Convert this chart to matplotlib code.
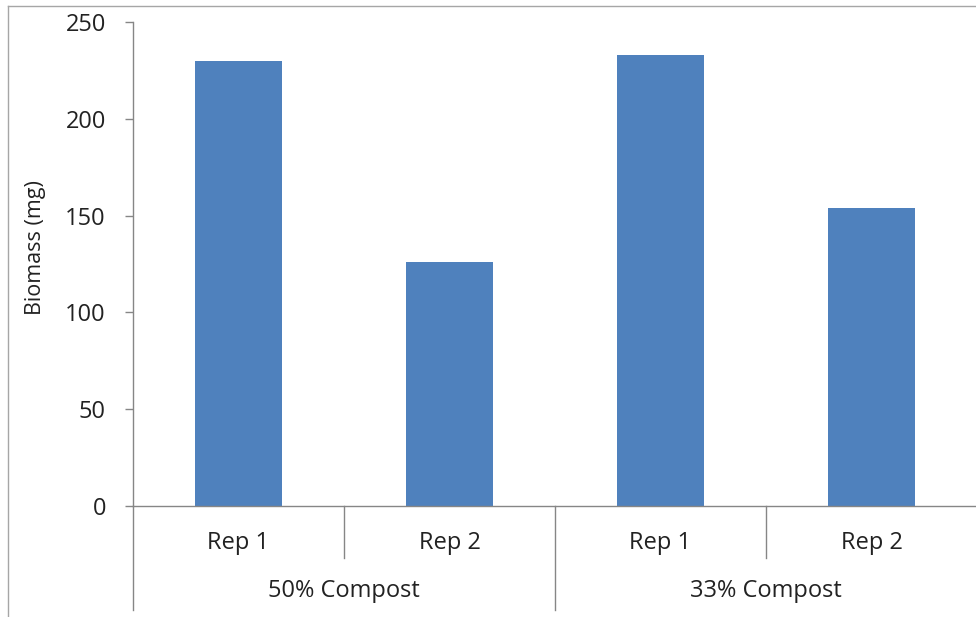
import matplotlib.pyplot as plt
from matplotlib.lines import Line2D

# data
groups = ['50% Compost', '33% Compost']
reps = ['Rep 1', 'Rep 2', 'Rep 1', 'Rep 2']
biomass = [230, 126, 233, 154]
y_ticks = [0, 50, 100, 150, 200, 250]

plt.rcParams['font.family'] = ['Open Sans', 'DejaVu Sans']
axis_color = '#868686'
bar_color = '#4F81BD'
text_color = '#222222'

fig = plt.figure(figsize=(9.76, 6.17), dpi=100)
W, H = 976, 617
ax = fig.add_axes([133 / W, 1 - 506 / H, (977 - 133) / W, (506 - 22) / H])

x = list(range(len(biomass)))
ax.bar(x, biomass, width=0.41, color=bar_color, zorder=2)

ax.set_xlim(-0.5, len(biomass) - 0.5)
ax.set_ylim(0, 250)
ax.set_yticks(y_ticks)
ax.tick_params(axis='y', labelsize=17, length=5.5, width=1, color=axis_color,
               labelcolor=text_color, pad=14)
ax.set_xticks([])
for s in ['top', 'right']:
    ax.spines[s].set_visible(False)
for s in ['left', 'bottom']:
    ax.spines[s].set_color(axis_color)
    ax.spines[s].set_linewidth(1)

# y axis title
ax.text((36 - 133) / 844, (506 - 248) / 484, 'Biomass (mg)', transform=ax.transAxes,
        rotation=90, ha='center', va='center', fontsize=15.5, color=text_color)

# two-level category axis
trans = ax.get_xaxis_transform()
for i, r in enumerate(reps):
    ax.text(i, -0.076, r, transform=trans, ha='center', va='center',
            fontsize=17, color=text_color)
n_per = len(reps) // len(groups)
for g, name in enumerate(groups):
    ax.text(g * n_per + (n_per - 1) / 2, -0.176, name, transform=trans,
            ha='center', va='center', fontsize=17, color=text_color)
for b in range(len(reps) + 1):
    xb = b - 0.5
    y_end = -0.215 if b % n_per == 0 else -0.107
    ax.add_line(Line2D([xb, xb], [0, y_end], transform=trans, color=axis_color,
                       linewidth=1, clip_on=False))

# chart area border
fig.add_artist(Line2D([8 / W, 1], [1 - 6 / H, 1 - 6 / H], transform=fig.transFigure,
                      color='#a6a6a6', linewidth=1))
fig.add_artist(Line2D([8 / W, 8 / W], [0, 1 - 6 / H], transform=fig.transFigure,
                      color='#a6a6a6', linewidth=1))

fig.savefig('out.png', dpi=100)
